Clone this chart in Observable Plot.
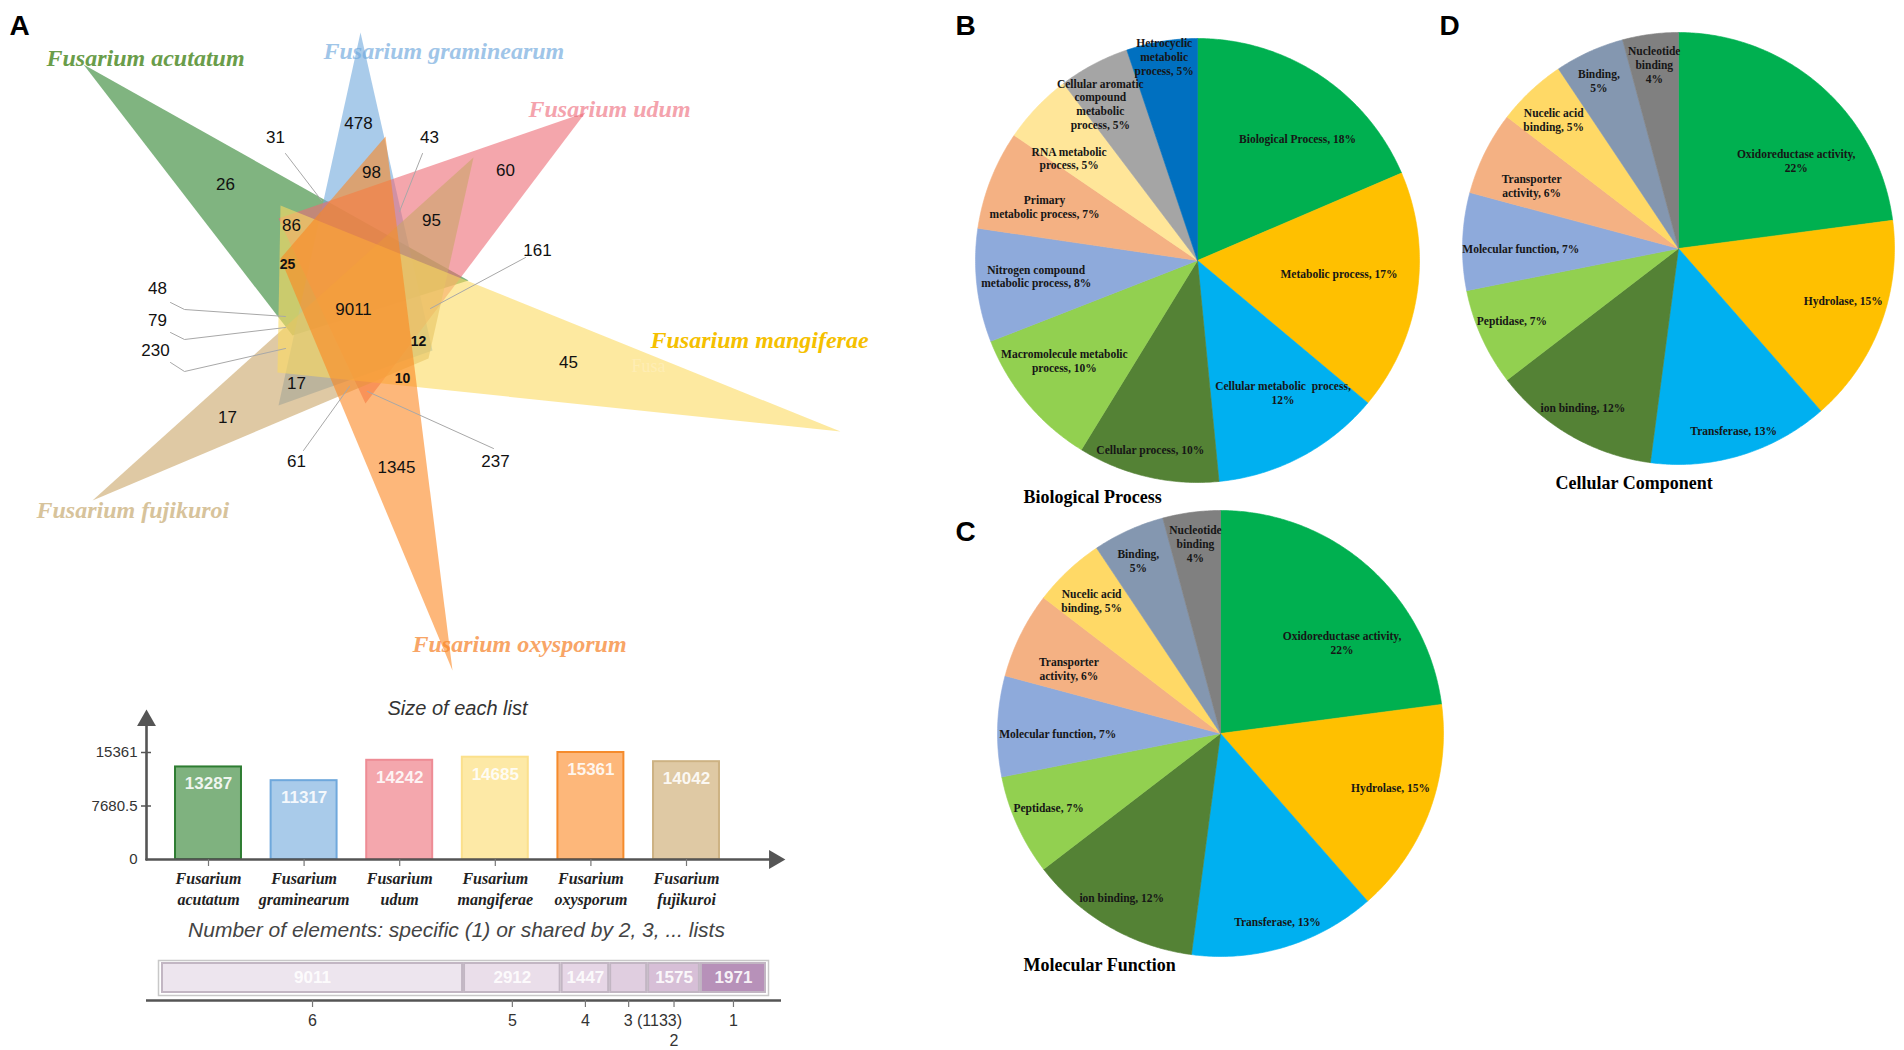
<!DOCTYPE html>
<html><head><meta charset="utf-8">
<script src="https://cdn.jsdelivr.net/npm/d3@7"></script>
<script src="https://cdn.jsdelivr.net/npm/@observablehq/plot@0.6"></script>
<style>
body{margin:0;background:#fff;}
#root{position:relative;width:1904px;height:1050px;overflow:hidden;background:#fff;}
#root svg{position:absolute;}
</style></head><body><div id="root"></div>
<script>
// ---------------- DATA ----------------
const species = ["Fusarium acutatum","Fusarium graminearum","Fusarium udum","Fusarium mangiferae","Fusarium oxysporum","Fusarium fujikuroi"];
const listSizes = [13287,11317,14242,14685,15361,14042];
const listTicks = [0,7680.5,15361];
const sharedBy = [6,5,4,3,2,1];
const sharedCounts = [9011,2912,1447,1133,1575,1971];
const vennCounts = [478,31,43,26,98,60,86,95,161,25,9011,48,79,230,12,45,10,17,17,61,1345,237];

const bpLabels = ["Biological Process, 18%","Metabolic process, 17%","Cellular metabolic  process,\n12%","Cellular process, 10%","Macromolecule metabolic\nprocess, 10%","Nitrogen compound\nmetabolic process, 8%","Primary\nmetabolic process, 7%","RNA metabolic\nprocess, 5%","Cellular aromatic\ncompound\nmetabolic\nprocess, 5%","Hetrocyclic\nmetabolic\nprocess, 5%"];
const bpPercent = [18,17,12,10,10,8,7,5,5,5];
const mfLabels = ["Oxidoreductase activity,\n22%","Hydrolase, 15%","Transferase, 13%","ion binding, 12%","Peptidase, 7%","Molecular function, 7%","Transporter\nactivity, 6%","Nucelic acid\nbinding, 5%","Binding,\n5%","Nucleotide\nbinding\n4%"];
const mfPercent = [22,15,13,12,7,7,6,5,5,4];
const ccLabels = ["Oxidoreductase activity,\n22%","Hydrolase, 15%","Transferase, 13%","ion binding, 12%","Peptidase, 7%","Molecular function, 7%","Transporter\nactivity, 6%","Nucelic acid\nbinding, 5%","Binding,\n5%","Nucleotide\nbinding\n4%"];
const ccPercent = [22,15,13,12,7,7,6,5,5,4];

// ---------------- STYLES / LAYOUT ----------------
const listFill = ["#7fb27f","#a9cbea","#f4a7ad","#fde9a6","#fdb77a","#dfc9a4"];
const listStroke = ["#2e7d32","#6fa8dc","#ee8c95","#fbe08c","#f58b2c","#cdb283"];
const sharedFill = ["#ede5ee","#eadeea","#e6d6e6","#e0cee0","#d7bfd7","#b791b9"];
const setLabelColors = ["#6a9d4a","#9fc5e8","#f4a3ad","#f5c000","#f8a566","#d7c39b"];
const setLabelLayout = [[46,58],[323,51],[528,109],[650,340],[412,644],[36,510]];
const vennShapes = [
  {color:"#2b822b", pts:[[83,64],[292,335],[468,280]]},
  {color:"#70a8dc", pts:[[360,32],[278,405],[432,350]]},
  {color:"#ed6b75", pts:[[585,112],[278,218],[365,403]]},
  {color:"#caa567", pts:[[92,500],[473,157],[428,358]]},
  {color:"#fcda61", pts:[[840,431],[280,205],[277,372]]},
  {color:"#fc8721", pts:[[452,670],[385,136],[280,258]]}
];
const vennLabelLayout = [[358,123],[275,137],[429,137],[225,184],[371,172],[505,170],[291,225],[431,220],[537,250],[287,264],[353,309],[157,288],[157,320],[155,350],[418,341],[568,362],[402,378],[296,383],[227,417],[296,461],[396,467],[495,461]];
const vennSmallBold = [9,14,16];
const leaderLayout = [
  [[285,153],[321,200]],
  [[422,153],[399,211]],
  [[525,257],[430,308]],
  [[170,302],[184,309],[285,316]],
  [[170,332],[184,339],[285,327]],
  [[170,362],[184,371],[285,348]],
  [[303,450],[349,386]],
  [[493,448],[367,391]]
];
const pieBColors = ["#00b050","#ffc000","#00b0f0","#548235","#92d050","#8eaadb","#f4b183","#ffe699","#a5a5a5","#0070c0"];
const pieMColors = ["#00b050","#ffc000","#00b0f0","#548235","#92d050","#8eaadb","#f4b183","#ffd966","#8497b0","#808080"];
const bpLabelR = [0.71,0.64,0.71,0.88,0.75,0.73,0.73,0.74,0.83,0.93];
const bpLabelTurn = [6,-3,-5,1,3,1,-2,-5,-4,0];
const mfLabelR = [0.68,0.8,0.88,0.86,0.84,0.73,0.74,0.83,0.86,0.86];
const mfLabelTurn = [12,-3,0,1,1,-2,-3,-1,-1,0];
const pies = [
  {labels:bpLabels, values:bpPercent, colors:pieBColors, cx:1197, cy:260, r:222, lr:bpLabelR, lt:bpLabelTurn},
  {labels:mfLabels, values:mfPercent, colors:pieMColors, cx:1220, cy:733, r:223, lr:mfLabelR, lt:mfLabelTurn},
  {labels:ccLabels, values:ccPercent, colors:pieMColors, cx:1678, cy:248, r:216, lr:mfLabelR, lt:mfLabelTurn}
];

const root = document.getElementById("root");
const W = 1904, H = 1050;
const serif = "Liberation Serif, Times New Roman, serif";
const sans = "Liberation Sans, Arial, sans-serif";

// ---------------- CANVAS (Venn + pies + texts) ----------------
const marks = [];
// set names (beneath shapes)
marks.push(Plot.text(species.map((s,i)=>({x:setLabelLayout[i][0], y:setLabelLayout[i][1], t:s, c:setLabelColors[i]})),
  {x:"x", y:"y", text:"t", fill:"c", textAnchor:"start", fontFamily:serif, fontStyle:"italic", fontWeight:"bold", fontSize:24}));
// triangles
vennShapes.forEach(s => {
  marks.push(Plot.line([...s.pts, s.pts[0]].map(([x,y])=>({x,y})), {x:"x", y:"y", fill:s.color, fillOpacity:0.6, stroke:"none"}));
});
marks.push(Plot.text([{x:631,y:366}], {x:"x", y:"y", text:()=>"Fusa", textAnchor:"start", fill:"#fff0c0", fillOpacity:0.6, fontFamily:serif, fontSize:18}));
// leader lines
const leaderPts = [];
leaderLayout.forEach((l,i)=>l.forEach(([x,y])=>leaderPts.push({id:i,x,y})));
marks.push(Plot.line(leaderPts, {x:"x", y:"y", z:"id", stroke:"#a8a8a8", strokeWidth:1}));
// counts
const vennData = vennCounts.map((v,i)=>({v, x:vennLabelLayout[i][0], y:vennLabelLayout[i][1], small:vennSmallBold.includes(i)}));
marks.push(Plot.text(vennData.filter(d=>!d.small), {x:"x", y:"y", text:d=>String(d.v), fill:"#111", fontFamily:sans, fontSize:17}));
marks.push(Plot.text(vennData.filter(d=>d.small), {x:"x", y:"y", text:d=>String(d.v), fill:"#111", fontFamily:sans, fontWeight:"bold", fontSize:14}));

// pies
pies.forEach((p,pi) => {
  const arcs = d3.pie().sort(null).value(d=>d)(p.values);
  arcs.forEach((a,i) => {
    const pts = [{x:p.cx, y:p.cy}];
    const n = Math.max(4, Math.ceil((a.endAngle - a.startAngle) / 0.01));
    for (let k=0;k<=n;k++){ const t = a.startAngle + (a.endAngle-a.startAngle)*k/n; pts.push({x:p.cx + p.r*Math.sin(t), y:p.cy - p.r*Math.cos(t)}); }
    pts.push({x:p.cx, y:p.cy});
    marks.push(Plot.line(pts, {x:"x", y:"y", fill:p.colors[i], stroke:p.colors[i], strokeWidth:0.6}));
  });
  const lab = arcs.map((a,i) => {
    const t = (a.startAngle + a.endAngle)/2 + p.lt[i]*Math.PI/180;
    return {x:p.cx + p.lr[i]*p.r*Math.sin(t), y:p.cy - p.lr[i]*p.r*Math.cos(t), t:p.labels[i]};
  });
  marks.push(Plot.text(lab, {x:"x", y:"y", text:"t", fill:"#161616", fontFamily:serif, fontWeight:"bold", fontSize:11.5, lineHeight:1.2}));
});

// panel letters and titles
marks.push(Plot.text([{x:9,y:26,t:"A"},{x:955,y:26,t:"B"},{x:955,y:532,t:"C"},{x:1439,y:26,t:"D"}],
  {x:"x", y:"y", text:"t", textAnchor:"start", fill:"#000", fontFamily:sans, fontWeight:"bold", fontSize:28}));
marks.push(Plot.text([{x:1023,y:497,t:"Biological Process"},{x:1023,y:965,t:"Molecular Function"},{x:1555,y:483,t:"Cellular Component"}],
  {x:"x", y:"y", text:"t", textAnchor:"start", fill:"#000", fontFamily:serif, fontWeight:"bold", fontSize:18}));
marks.push(Plot.text([{x:457,y:708,t:"Size of each list"}],
  {x:"x", y:"y", text:"t", fill:"#333", fontFamily:sans, fontStyle:"italic", fontSize:20}));
marks.push(Plot.text([{x:456,y:930,t:"Number of elements: specific (1) or shared by 2, 3, ... lists"}],
  {x:"x", y:"y", text:"t", fill:"#444", fontFamily:sans, fontStyle:"italic", fontSize:21}));

const canvas = Plot.plot({
  width:W, height:H, margin:0,
  style:{background:"transparent", overflow:"visible"},
  x:{domain:[0,W], range:[0,W], axis:null},
  y:{domain:[0,H], range:[0,H], axis:null},
  color:{type:"identity"},
  marks
});
canvas.style.left = "0px"; canvas.style.top = "0px";
root.appendChild(canvas);

// ---------------- BAR CHART: Size of each list ----------------
const barTop = 690;
const listData = species.map((s,i)=>({i, s, size:listSizes[i], fill:listFill[i], stroke:listStroke[i]}));
const bx = px => (px-208)/((686-208)/5);
const by = px => (169-px)/(169-62)*15361;
const axX = bx(146);
const barPlot = Plot.plot({
  width:800, height:250, marginLeft:146, marginRight:20, marginTop:10, marginBottom:81,
  style:{background:"transparent", overflow:"visible"},
  x:{domain:[0,5], range:[208,686], axis:null},
  y:{domain:[0,15361], range:[169,62], axis:null},
  color:{type:"identity"},
  marks:[
    Plot.rect(listData, {x1:d=>d.i-0.345, x2:d=>d.i+0.345, y1:0, y2:"size", fill:"fill", stroke:"stroke", strokeWidth:2}),
    Plot.text(listData, {x:"i", y:"size", dy:17, text:d=>String(d.size), fill:"#fff", fillOpacity:0.88, fontFamily:sans, fontWeight:"bold", fontSize:17}),
    Plot.line([{x:axX,y:0},{x:axX,y:by(30)}], {x:"x", y:"y", stroke:"#555", strokeWidth:2.6}),
    Plot.line([{x:axX,y:0},{x:bx(772),y:0}], {x:"x", y:"y", stroke:"#555", strokeWidth:2.6}),
    Plot.dot([{x:axX,y:by(30)}], {x:"x", y:"y", symbol:"triangle", r:7, fill:"#555", stroke:"none"}),
    Plot.dot([{x:bx(774),y:0}], {x:"x", y:"y", symbol:"triangle", r:7, fill:"#555", stroke:"none", rotate:90}),
    Plot.ruleY(listTicks.slice(1), {x1:bx(141), x2:bx(151), stroke:"#555", strokeWidth:1.5}),
    Plot.text(listTicks, {x:axX, y:d=>d, dx:-9, text:d=>String(d), textAnchor:"end", fill:"#333", fontFamily:sans, fontSize:15}),
    Plot.ruleX(listData, {x:"i", y1:0, y2:by(176), stroke:"#777", strokeWidth:1.2}),
    Plot.text(listData, {x:"i", y:0, dy:9, text:d=>d.s.replace(" ","\n"), lineAnchor:"top", lineHeight:1.35, fill:"#222", fontFamily:serif, fontStyle:"italic", fontWeight:"bold", fontSize:16})
  ]
});
barPlot.style.left = "0px"; barPlot.style.top = barTop + "px";
root.appendChild(barPlot);

// ---------------- STACKED BAR: shared elements ----------------
const stackTop = 940;
const total = d3.sum(sharedCounts);
const cum = d3.cumsum(sharedCounts);
const xs0 = 161, xs1 = 766;
const pxPerUnit = (xs1-xs0)/total;
const sharedData = sharedCounts.map((c,i)=>({k:sharedBy[i], c, x1:cum[i]-c, x2:cum[i], mid:cum[i]-c/2, fill:sharedFill[i], wide:c*pxPerUnit>40}));
let lastEnd = -Infinity;
const tickLab = sharedData.map(d=>{
  const txt = d.wide ? String(d.k) : `${d.k} (${d.c})`;
  const cx = xs0 + d.mid*pxPerUnit;
  const w = txt.length*8.5;
  const start = d.wide ? cx - w/2 : cx - 5;
  let line = 0;
  if (start < lastEnd + 2) line = 1; else lastEnd = start + w;
  return {mid:d.mid, txt, anchor:d.wide?"middle":"start", line};
});
const sy = px => (53-px)/31;
const sx = px => (px-xs0)/pxPerUnit;
const stackPlot = Plot.plot({
  width:800, height:110, marginLeft:158, marginRight:32, marginTop:20, marginBottom:55,
  style:{background:"transparent", overflow:"visible"},
  x:{domain:[0,total], range:[xs0,xs1], axis:null},
  y:{domain:[0,1], range:[53,22], axis:null},
  color:{type:"identity"},
  marks:[
    Plot.frame({stroke:"#c8c8c8", strokeWidth:1.5}),
    Plot.rect(sharedData, {x1:"x1", x2:"x2", y1:0, y2:1, fill:"fill", stroke:"#c2b6c3", strokeWidth:2, inset:1}),
    Plot.text(sharedData.filter(d=>d.wide), {x:"mid", y:0.5, text:d=>String(d.c), fill:"#fff", fillOpacity:0.9, fontFamily:sans, fontWeight:"bold", fontSize:17}),
    Plot.ruleY([sy(60)], {x1:sx(146), x2:sx(781), stroke:"#555", strokeWidth:2.5}),
    Plot.ruleX(sharedData, {x:"mid", y1:sy(60), y2:sy(67), stroke:"#777", strokeWidth:1.2}),
    Plot.text(tickLab.filter(d=>d.anchor==="middle"), {x:"mid", y:d=>sy(80 + 20*d.line), text:"txt", textAnchor:"middle", fill:"#333", fontFamily:sans, fontSize:16}),
    Plot.text(tickLab.filter(d=>d.anchor==="start"), {x:"mid", y:d=>sy(80 + 20*d.line), dx:-5, text:"txt", textAnchor:"start", fill:"#333", fontFamily:sans, fontSize:16})
  ]
});
stackPlot.style.left = "0px"; stackPlot.style.top = stackTop + "px";
root.appendChild(stackPlot);
</script></body></html>
